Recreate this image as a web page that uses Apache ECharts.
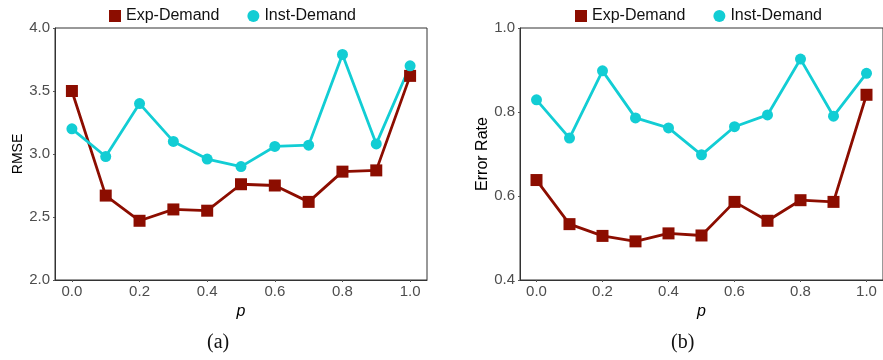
<!DOCTYPE html>
<html>
<head>
<meta charset="utf-8">
<script src="https://cdn.jsdelivr.net/npm/echarts@6/dist/echarts.min.js"></script>
<style>html,body{margin:0;padding:0;background:#fff;}#c{width:883px;height:360px;}</style>
</head>
<body>
<div id="c"></div>
<script>
const pValues = [0.0, 0.1, 0.2, 0.3, 0.4, 0.5, 0.6, 0.7, 0.8, 0.9, 1.0];
const xTicks = [0.0, 0.2, 0.4, 0.6, 0.8, 1.0];
const rmseExp = [3.50, 2.67, 2.47, 2.56, 2.55, 2.76, 2.75, 2.62, 2.86, 2.87, 3.62];
const rmseInst = [3.20, 2.98, 3.40, 3.10, 2.96, 2.90, 3.06, 3.07, 3.79, 3.08, 3.70];
const errExp = [0.638, 0.533, 0.505, 0.492, 0.511, 0.506, 0.586, 0.541, 0.590, 0.586, 0.841];
const errInst = [0.829, 0.738, 0.898, 0.786, 0.762, 0.698, 0.765, 0.793, 0.926, 0.790, 0.892];
const seriesNames = ['Exp-Demand', 'Inst-Demand'];
const captions = ['(a)', '(b)'];

const EXP = '#8c0d00';
const INST = '#12cdd4';
const font = 'Liberation Sans, Arial, sans-serif';

const pair = (ys) => pValues.map((p, i) => [p, ys[i]]);

function xAxis(gi) {
  return {
    type: 'value', gridIndex: gi, min: -0.05, max: 1.05,
    name: 'p', nameLocation: 'middle', nameGap: 19,
    nameTextStyle: { fontFamily: font, fontSize: 16, fontStyle: 'italic', color: '#000' },
    axisLine: { show: true, onZero: false, lineStyle: { color: '#333', width: 1 } },
    axisTick: { show: true, length: 2, lineStyle: { color: '#555' }, customValues: xTicks },
    axisLabel: { customValues: xTicks, color: '#4d4d4d', fontFamily: font, fontSize: 15, margin: 4,
      formatter: v => Number(v).toFixed(1) },
    splitLine: { show: false }
  };
}
function yAxis(gi, name, nameSize, min, max, interval) {
  return {
    type: 'value', gridIndex: gi, min, max, interval,
    name, nameLocation: 'middle', nameGap: 28,
    nameTextStyle: { fontFamily: font, fontSize: nameSize, color: '#000' },
    axisLine: { show: true, onZero: false, lineStyle: { color: '#333', width: 1 } },
    axisTick: { show: true, length: 2, lineStyle: { color: '#555' } },
    axisLabel: { color: '#4d4d4d', fontFamily: font, fontSize: 15, margin: 5,
      formatter: v => Number(v).toFixed(1) },
    splitLine: { show: false }
  };
}
function line(name, gi, data, color, symbol, size) {
  return {
    name, type: 'line', xAxisIndex: gi, yAxisIndex: gi, data,
    symbol, symbolSize: size, showSymbol: true,
    lineStyle: { color, width: 2.8 }, itemStyle: { color },
    emphasis: { disabled: true }, animation: false
  };
}
function legend(left) {
  return {
    top: 3, left, itemGap: 28, itemWidth: 12, itemHeight: 12,
    textStyle: { fontFamily: font, fontSize: 16, color: '#111' },
    data: [{ name: seriesNames[0], icon: 'rect' }, { name: seriesNames[1], icon: 'circle' }]
  };
}

const chart = echarts.init(document.getElementById('c'), null, { renderer: 'canvas' });
chart.setOption({
  animation: false,
  legend: [legend(104), legend(570)],
  grid: [
    { left: 55, top: 28, width: 372, height: 252, show: true, borderColor: '#333', borderWidth: 1, backgroundColor: 'transparent' },
    { left: 520, top: 28, width: 374, height: 252, show: true, borderColor: '#333', borderWidth: 1, backgroundColor: 'transparent' }
  ],
  xAxis: [xAxis(0), xAxis(1)],
  yAxis: [yAxis(0, 'RMSE', 14, 2, 4, 0.5), yAxis(1, 'Error Rate', 16, 0.4, 1.0, 0.2)],
  series: [
    line(seriesNames[0], 0, pair(rmseExp), EXP, 'rect', 12),
    line(seriesNames[1], 0, pair(rmseInst), INST, 'circle', 11),
    line(seriesNames[0], 1, pair(errExp), EXP, 'rect', 12),
    line(seriesNames[1], 1, pair(errInst), INST, 'circle', 11)
  ],
  graphic: [
    { type: 'text', left: 207, top: 333, style: { text: captions[0], font: '20px "Liberation Serif", "DejaVu Serif", serif', fill: '#111' } },
    { type: 'text', left: 671, top: 333, style: { text: captions[1], font: '20px "Liberation Serif", "DejaVu Serif", serif', fill: '#111' } }
  ]
});
</script>
</body>
</html>
